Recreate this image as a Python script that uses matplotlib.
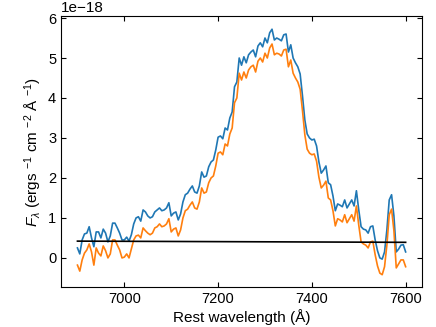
import numpy as np
import matplotlib
matplotlib.use('Agg')
import matplotlib.pyplot as plt

plt.rcParams['font.family'] = ['Liberation Sans', 'DejaVu Sans']
plt.rcParams['mathtext.fontset'] = 'custom'
plt.rcParams['mathtext.rm'] = 'Liberation Sans'
plt.rcParams['mathtext.it'] = 'Liberation Sans:italic'
plt.rcParams['font.size'] = 10.5

# ------------------------------------------------------------
# Spectrum (values in units of 1e-18), 5 A sampling
# ------------------------------------------------------------
wave = np.arange(6900, 7601, 5)

flux_blue = [
    0.25, 0.10, 0.45, 0.60, 0.62, 0.78, 0.50, 0.28, 0.65, 0.65,
    0.50, 0.72, 0.62, 0.40, 0.55, 0.87, 0.87, 0.75, 0.62, 0.45,
    0.45, 0.52, 0.42, 0.58, 0.85, 1.00, 1.03, 0.92, 1.20, 1.15,
    1.05, 1.00, 1.03, 1.15, 1.20, 1.25, 1.18, 1.20, 1.25, 1.38,
    1.05, 1.12, 1.15, 0.95, 1.10, 1.40, 1.58, 1.62, 1.72, 1.80,
    1.65, 1.62, 1.80, 2.15, 2.02, 2.05, 2.28, 2.40, 2.45, 2.70,
    3.02, 3.05, 2.98, 3.25, 3.20, 3.50, 3.65, 4.28, 4.40, 5.00,
    4.82, 5.03, 4.88, 5.08, 5.15, 5.20, 5.03, 5.30, 5.38, 5.28,
    5.50, 5.38, 5.63, 5.72, 5.45, 5.50, 5.47, 5.43, 5.58, 5.60,
    5.15, 5.33, 5.00, 4.88, 4.78, 4.60, 4.05, 3.45, 3.10, 3.00,
    2.95, 2.97, 2.80, 2.40, 2.12, 2.20, 2.30, 1.88, 1.83, 1.55,
    1.18, 1.35, 1.32, 1.28, 1.45, 1.25, 1.35, 1.45, 1.30, 1.68,
    1.20, 0.78, 0.72, 0.70, 0.62, 0.78, 0.80, 0.45, 0.18, 0.00,
    -0.03, 0.15, 0.70, 1.45, 1.58, 1.05, 0.15, 0.22, 0.32, 0.33,
    0.15,
]

flux_orange = [
    -0.18, -0.33, -0.05, 0.12, 0.20, 0.35, 0.15, -0.18, 0.25, 0.12,
    0.05, 0.30, 0.18, 0.00, 0.10, 0.45, 0.45, 0.32, 0.20, 0.00,
    0.02, 0.10, 0.00, 0.22, 0.45, 0.55, 0.57, 0.50, 0.75, 0.68,
    0.62, 0.58, 0.62, 0.75, 0.78, 0.85, 0.78, 0.80, 0.85, 0.98,
    0.65, 0.72, 0.75, 0.55, 0.70, 1.00, 1.18, 1.22, 1.32, 1.40,
    1.25, 1.22, 1.40, 1.75, 1.62, 1.65, 1.88, 2.00, 2.05, 2.30,
    2.62, 2.65, 2.58, 2.85, 2.80, 3.10, 3.25, 3.88, 4.00, 4.62,
    4.45, 4.65, 4.50, 4.70, 4.78, 4.82, 4.65, 4.92, 5.00, 4.90,
    5.12, 5.00, 5.25, 5.35, 5.08, 5.12, 5.10, 5.05, 5.20, 5.22,
    4.78, 4.95, 4.62, 4.50, 4.40, 4.22, 3.68, 3.08, 2.72, 2.62,
    2.58, 2.60, 2.42, 2.02, 1.75, 1.82, 1.92, 1.50, 1.45, 1.18,
    0.80, 0.98, 0.95, 0.90, 1.08, 0.88, 0.98, 1.08, 0.92, 1.30,
    0.82, 0.40, 0.35, 0.32, 0.25, 0.40, 0.42, 0.08, -0.20, -0.38,
    -0.42, -0.22, 0.32, 1.08, 1.22, 0.68, -0.25, -0.15, -0.05, -0.05,
    -0.22,
]

# continuum line end points
cont_wave = [6900, 7600]
cont_flux = [0.42, 0.39]

scale = 1e-18

fig = plt.figure(figsize=(4.36, 3.27), dpi=100)
ax = fig.add_axes([0.140, 0.122, 0.828, 0.829])

ax.plot(wave, np.array(flux_blue) * scale, color='#1f77b4', lw=1.2)
ax.plot(wave, np.array(flux_orange) * scale, color='#ff7f0e', lw=1.2)
ax.plot(cont_wave, np.array(cont_flux) * scale, color='black', lw=1.2)

ax.set_xlim(6865, 7635)
ax.set_ylim(-0.73e-18, 6.05e-18)
ax.set_xticks([7000, 7200, 7400, 7600])
ax.set_yticks(np.arange(0, 7) * scale)
ax.tick_params(direction='in', top=True, right=True, labelsize=10.5)
ax.yaxis.get_offset_text().set_fontsize(11)

ax.set_xlabel('Rest wavelength (Å)', fontsize=11, labelpad=2)
ax.set_ylabel(r'$F_\lambda$ (ergs $^{-1}$ cm $^{-2}$ Å $^{-1}$)', fontsize=11, labelpad=3)

plt.savefig('out.png', dpi=100)
plt.close()
